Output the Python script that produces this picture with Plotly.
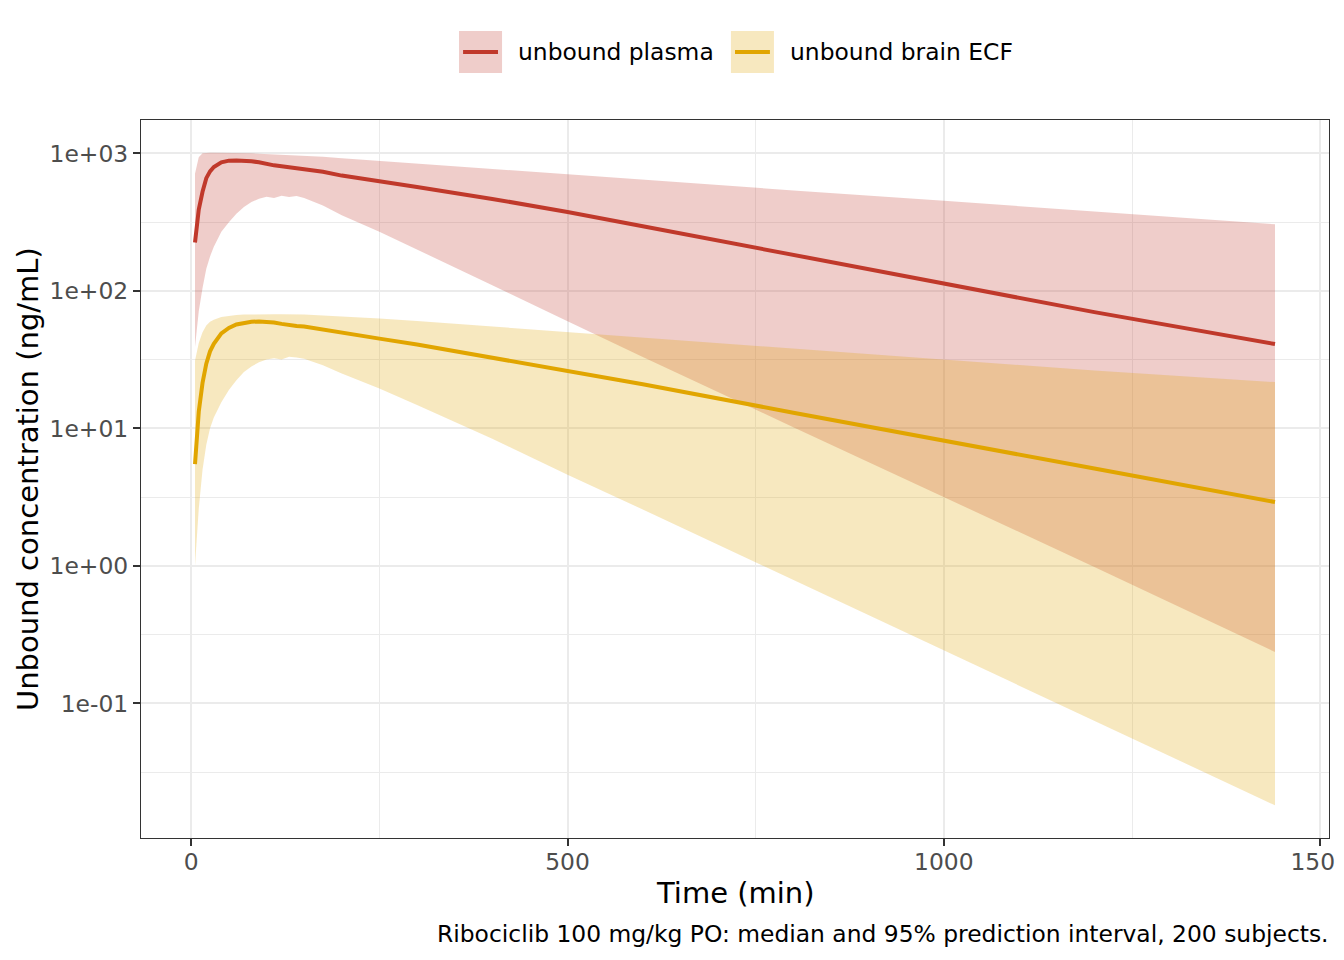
import numpy as np
import plotly.graph_objects as go

# Simulated time grid (min)
time = [5, 10, 15, 20, 25, 30, 40, 50, 60, 70, 80, 90, 100, 110, 120, 130, 140,
        150, 175, 200, 250, 300, 400, 500, 600, 800, 1000, 1200, 1440]

# unbound plasma: median and 95% prediction interval (ng/mL)
plasma_median = [225, 390, 525, 660, 740, 795, 860, 885, 887, 887, 875, 862, 838,
                 818, 807, 795, 782, 767, 735, 689, 631, 569, 466, 375, 295, 182,
                 113, 70, 41]
plasma_upper = [710, 935, 1000, 1010, 1012, 1012, 1012, 1010, 1008, 1005, 1000, 995,
                990, 985, 980, 975, 970, 966, 945, 923, 882, 841, 767, 703, 646, 537,
                452, 378, 305]
plasma_lower = [39, 71, 105, 145, 178, 209, 269, 316, 363, 407, 442, 468, 484, 473,
                492, 482, 490, 473, 417, 355, 269, 200, 110, 60, 33, 10.2, 3.16, 0.98,
                0.236]

# unbound brain ECF: median and 95% prediction interval (ng/mL)
brain_median = [5.5, 13.2, 21.4, 29.5, 36.3, 41.2, 49, 53.7, 56.9, 58.2, 59.6, 59.8,
                59.6, 58.9, 57.5, 56.2, 55.6, 55, 52.5, 49.5, 44.9, 40.7, 32.7, 26.3,
                20.9, 13, 8.2, 5.1, 2.91]
brain_upper = [31, 41.7, 50, 56, 59.5, 61.7, 64.6, 66, 66.8, 67.2, 67.5, 67.6, 67.6,
               67.6, 67.5, 67.5, 67.4, 67.3, 66.3, 65.3, 62.8, 60.3, 55, 49.9, 45.7,
               38, 31.6, 26.3, 21.7]
brain_lower = [1.0, 2.6, 5.0, 7.6, 10, 12, 15.5, 19, 22.4, 25.7, 28.2, 30.2, 31.6,
               32.4, 31.6, 33.1, 32.7, 32, 28.8, 25.1, 19.5, 14.8, 8.4, 4.6, 2.57,
               0.79, 0.245, 0.075, 0.0181]

series = [
    ("unbound plasma", "#C0392B", "rgba(192,57,43,0.25)",
     plasma_lower, plasma_median, plasma_upper),
    ("unbound brain ECF", "#E1A500", "rgba(225,165,0,0.25)",
     brain_lower, brain_median, brain_upper),
]

y_ticks = [0.1, 1, 10, 100, 1000]
y_ticktext = ["1e-01", "1e+00", "1e+01", "1e+02", "1e+03"]
x_ticks = [0, 500, 1000, 1500]

FONT = "DejaVu Sans"
SMALL = 23.4
TITLE = 29

fig = go.Figure()

# ribbons first, then the median lines
for name, col, fillcol, lo, med, hi in series:
    fig.add_trace(go.Scatter(x=time, y=lo, mode="lines", line=dict(width=0),
                             showlegend=False, hoverinfo="skip"))
    fig.add_trace(go.Scatter(x=time, y=hi, mode="lines", line=dict(width=0),
                             fill="tonexty", fillcolor=fillcol,
                             showlegend=False, hoverinfo="skip"))
for name, col, fillcol, lo, med, hi in series:
    fig.add_trace(go.Scatter(x=time, y=med, mode="lines", name=name,
                             line=dict(color=col, width=4), showlegend=False))

# ggplot-like expansion of the axes
xr = max(time) - min(time)
x_range = [min(time) - 0.05 * xr, max(time) + 0.05 * xr]
lmin = np.log10(min(brain_lower))
lmax = np.log10(max(plasma_upper))
y_range = [lmin - 0.05 * (lmax - lmin), lmax + 0.05 * (lmax - lmin)]

# minor grid at the mid points in transformed space
y_minor = [10 ** (k + 0.5) for k in range(-2, 3)]

axis_common = dict(
    showline=True, linecolor="#333333", linewidth=1.3, mirror=True,
    ticks="outside", ticklen=7, tickwidth=1.5, tickcolor="#333333",
    tickfont=dict(family=FONT, size=SMALL, color="#4D4D4D"),
    gridcolor="#EBEBEB", gridwidth=2, zeroline=False,
    ticklabeloverflow="allow", automargin=False,
)

fig.update_xaxes(range=x_range, tickvals=x_ticks, ticklabelstandoff=-4,
                 minor=dict(tickvals=[250, 750, 1250], showgrid=True,
                            gridcolor="#EBEBEB", gridwidth=1, ticks=""),
                 **axis_common)
fig.update_yaxes(type="log", range=y_range, tickvals=y_ticks, ticktext=y_ticktext,
                 minor=dict(tickvals=y_minor, showgrid=True,
                            gridcolor="#EBEBEB", gridwidth=1, ticks=""),
                 **axis_common)

# hand-made ggplot style legend above the panel
legend_items = [
    ("unbound plasma", "#C0392B", "rgba(192,57,43,0.25)", 0.2677, 0.3156),
    ("unbound brain ECF", "#E1A500", "rgba(225,165,0,0.25)", 0.4966, 0.5446),
]
shapes = []
annotations = []
for label, col, fillcol, kx, tx in legend_items:
    shapes.append(dict(type="rect", xref="paper", yref="paper",
                       x0=kx, x1=kx + 0.0362, y0=1.0655, y1=1.1240,
                       fillcolor=fillcol, line=dict(width=0)))
    shapes.append(dict(type="line", xref="paper", yref="paper",
                       x0=kx + 0.0034, x1=kx + 0.0328, y0=1.0947, y1=1.0947,
                       line=dict(color=col, width=4)))
    annotations.append(dict(text=label, xref="paper", yref="paper", x=tx, y=1.0947,
                            xanchor="left", yanchor="middle", showarrow=False,
                            font=dict(family=FONT, size=SMALL, color="black")))

annotations += [
    dict(text="Time (min)", xref="paper", yref="paper", x=0.5, y=-0.0766,
         xanchor="center", yanchor="middle", showarrow=False,
         font=dict(family=FONT, size=TITLE, color="black")),
    dict(text="Unbound concentration (ng/mL)", xref="paper", yref="paper",
         x=-0.0951, y=0.5, textangle=-90, xanchor="center", yanchor="middle",
         showarrow=False, font=dict(family=FONT, size=TITLE, color="black")),
    dict(text="Ribociclib 100 mg/kg PO: median and 95% prediction interval, 200 subjects.",
         xref="paper", yref="paper", x=1.0017, y=-0.1337, xanchor="right",
         yanchor="middle", showarrow=False,
         font=dict(family=FONT, size=SMALL, color="black")),
]

# page body adds 8px, so the figure is 8px smaller and margins shifted
fig.update_layout(
    width=1336, height=952,
    margin=dict(l=133, r=15, t=112, b=122, autoexpand=False),
    paper_bgcolor="white", plot_bgcolor="white",
    shapes=shapes, annotations=annotations,
    showlegend=False,
    font=dict(family=FONT),
)

fig.write_html("out.html")
